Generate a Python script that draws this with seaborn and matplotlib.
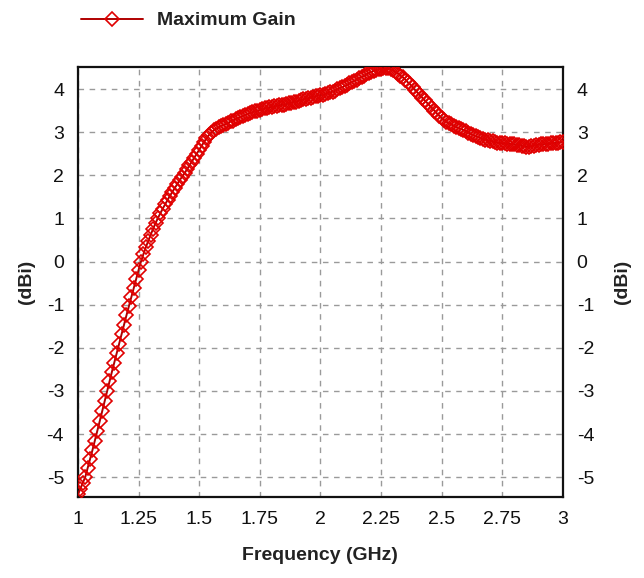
import numpy as np
import pandas as pd
import matplotlib
matplotlib.use("Agg")
import matplotlib.pyplot as plt
import seaborn as sns

# ---- data ----
freq_start, freq_stop, n_points = 1.0, 3.0, 201
gain_dbi = [
    -5.40, -5.27, -5.13, -5.00, -4.79, -4.58, -4.37, -4.15, -3.93, -3.70,
    -3.47, -3.24, -3.00, -2.78, -2.56, -2.34, -2.12, -1.90, -1.68, -1.46,
    -1.25, -1.04, -0.83, -0.62, -0.41, -0.20, 0.00, 0.17, 0.33, 0.48,
    0.62, 0.76, 0.89, 1.01, 1.12, 1.23, 1.33, 1.43, 1.53, 1.62,
    1.71, 1.80, 1.89, 1.97, 2.05, 2.14, 2.23, 2.32, 2.41, 2.50,
    2.59, 2.68, 2.77, 2.86, 2.93, 2.99, 3.04, 3.08, 3.11, 3.14,
    3.17, 3.19, 3.22, 3.25, 3.27, 3.30, 3.32, 3.35, 3.37, 3.40,
    3.42, 3.44, 3.46, 3.48, 3.50, 3.51, 3.53, 3.55, 3.56, 3.58,
    3.59, 3.60, 3.61, 3.62, 3.63, 3.64, 3.65, 3.67, 3.68, 3.70,
    3.71, 3.73, 3.74, 3.76, 3.77, 3.79, 3.80, 3.82, 3.83, 3.85,
    3.86, 3.87, 3.88, 3.90, 3.92, 3.94, 3.96, 3.99, 4.02, 4.04,
    4.07, 4.10, 4.13, 4.16, 4.19, 4.22, 4.25, 4.28, 4.31, 4.34,
    4.37, 4.40, 4.42, 4.44, 4.46, 4.47, 4.48, 4.48, 4.48, 4.46,
    4.43, 4.40, 4.36, 4.31, 4.27, 4.22, 4.16, 4.11, 4.05, 3.98,
    3.92, 3.86, 3.80, 3.74, 3.68, 3.62, 3.56, 3.50, 3.44, 3.38,
    3.32, 3.28, 3.24, 3.21, 3.18, 3.15, 3.12, 3.09, 3.07, 3.05,
    3.02, 2.99, 2.96, 2.93, 2.91, 2.89, 2.87, 2.85, 2.83, 2.81,
    2.80, 2.79, 2.77, 2.76, 2.75, 2.74, 2.74, 2.73, 2.73, 2.72,
    2.72, 2.71, 2.70, 2.68, 2.67, 2.66, 2.66, 2.67, 2.69, 2.70,
    2.71, 2.72, 2.72, 2.73, 2.73, 2.74, 2.75, 2.75, 2.76, 2.77,
    2.78,
]
x_ticks = [1, 1.25, 1.5, 1.75, 2, 2.25, 2.5, 2.75, 3]
x_tick_labels = ["1", "1.25", "1.5", "1.75", "2", "2.25", "2.5", "2.75", "3"]
y_ticks = [-5, -4, -3, -2, -1, 0, 1, 2, 3, 4]
y_tick_labels = ["-5", "-4", "-3", "-2", "-1", "0", "1", "2", "3", "4"]
series_name = "Maximum Gain"

df = pd.DataFrame({
    "freq": np.linspace(freq_start, freq_stop, n_points),
    "gain": gain_dbi,
})

sns.set_theme(style="white")
plt.rcParams["font.family"] = ["Liberation Sans", "DejaVu Sans"]

fig = plt.figure(figsize=(6.44, 5.78), dpi=100)
ax = fig.add_axes([0.121, 0.140, 0.753, 0.744])

line_color = "#b00000"
marker_edge = "#e00000"
sns.lineplot(data=df, x="freq", y="gain", ax=ax, color=line_color, lw=1.4,
             marker="D", markersize=7.5, markerfacecolor="none",
             markeredgecolor=marker_edge, markeredgewidth=1.2,
             label=series_name, legend=False, zorder=3)

ax.set_xlim(1.0, 3.0)
ax.set_ylim(-5.46, 4.51)
ax.set_xticks(x_ticks)
ax.set_xticklabels(x_tick_labels)
ax.set_yticks(y_ticks)
ax.set_yticklabels(y_tick_labels)
ax.grid(True, color="#9a9a9a", linestyle=(0, (4, 4)), linewidth=1.0)
ax.tick_params(axis="both", length=0, labelsize=14, colors="#111111", pad=10)
for s in ax.spines.values():
    s.set_color("#111111")
    s.set_linewidth(1.6)

ax.set_xlabel("Frequency (GHz)", fontsize=14, fontweight="bold", color="#222222", labelpad=14)
ax.set_ylabel("(dBi)", fontsize=14, fontweight="bold", color="#222222", labelpad=8)

ax2 = ax.twinx()
ax2.set_ylim(ax.get_ylim())
ax2.set_yticks(y_ticks)
ax2.set_yticklabels(y_tick_labels)
ax2.tick_params(axis="y", length=0, labelsize=14, colors="#111111", pad=10)
ax2.set_ylabel("(dBi)", fontsize=14, fontweight="bold", color="#222222", rotation=90, labelpad=14)
ax2.grid(False)
for s in ax2.spines.values():
    s.set_visible(False)

handles, labels = ax.get_legend_handles_labels()
leg = fig.legend(handles, labels, loc="upper left", bbox_to_anchor=(0.098, 1.01),
                 frameon=False, handlelength=3.2, handletextpad=0.75,
                 prop={"weight": "bold", "size": 14})
for t in leg.get_texts():
    t.set_color("#222222")

fig.savefig("out.png", dpi=100)
